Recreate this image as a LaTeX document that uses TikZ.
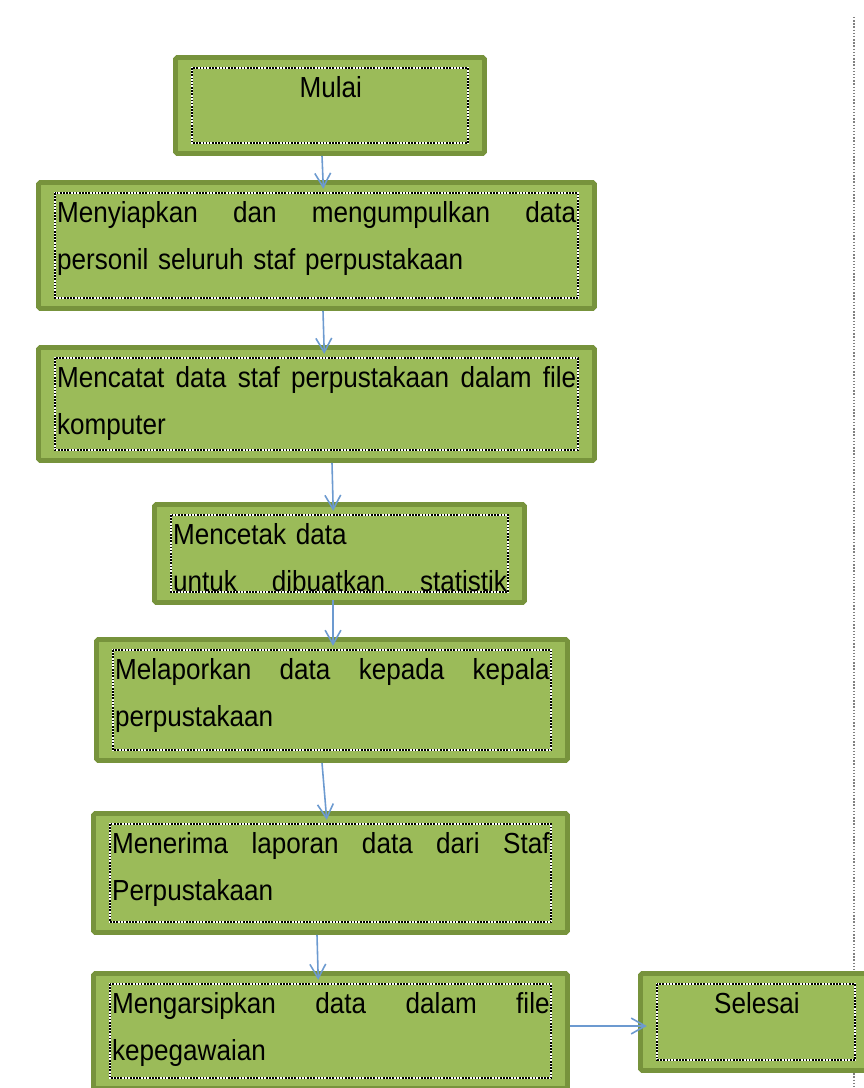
\documentclass[tikz,border=0pt]{standalone}
\usepackage{fontspec}
\setmainfont{Liberation Sans}[FakeStretch=0.9]
\usetikzlibrary{arrows.meta}
\definecolor{boxfill}{HTML}{9BBB59}
\definecolor{boxline}{HTML}{77933C}
\definecolor{arrline}{HTML}{6C9AD0}
\begin{document}
\begin{tikzpicture}[x=0.02cm,y=-0.02cm,>={Straight Barb[length=8pt,width=9pt]},
  box/.style={draw=boxline,fill=boxfill,line width=2.8pt,rounded corners=1pt,inner sep=0pt},
  frame/.style={draw=black,dash pattern=on 0.9pt off 0.9pt,line width=1.1pt,preaction={draw=white,solid,line width=1.1pt}},
  txt/.style={inner xsep=1pt,inner ysep=4.5pt,font=\fontsize{16.5}{27}\selectfont},
  arr/.style={->,draw=arrline,line width=0.9pt,shorten >=-5pt}]
\useasboundingbox (0,0) rectangle (863,1088);
\draw[gray,densely dotted,line width=0.8pt] (854,17) -- (854,1088);
\foreach \n/\x/\y/\w/\h/\a/\t in {
  mulai/330/105.5/314/101/center/Mulai,
  siap/316.5/245.5/561/131/left/{Menyiapkan\hfill dan\hfill mengumpulkan\hfill data\\personil seluruh staf perpustakaan},
  catat/316.5/404/561/118/left/{Mencatat\hfill data\hfill staf\hfill perpustakaan\hfill dalam\hfill file\\komputer},
  cetak/339.5/553.5/375/103/left/{Mencetak data\\untuk\hfill dibuatkan\hfill statistik},
  lapor/332/700/476/126/left/{Melaporkan\hfill data\hfill kepada\hfill kepala\\perpustakaan},
  terima/330.5/873/479/124/left/{Menerima\hfill laporan\hfill data\hfill dari\hfill Staf\\Perpustakaan},
  arsip/330.5/1031/479/120/left/{Mengarsipkan\hfill data\hfill dalam\hfill file\\kepegawaian},
  selesai/756/1022/236/102/center/Selesai} {
  \pgfmathsetmacro\tw{(\w-38)*0.5669-1}
  \node[box,minimum width=(\w-5)*0.02cm,minimum height=(\h-5)*0.02cm] (\n) at (\x,\y) {};
  \draw[frame] ([shift={(19,13)}]\n.north west) rectangle ([shift={(-19,-13)}]\n.south east);
  \node[txt,align=\a,text width=\tw pt,anchor=north west] (\n-t) at ([shift={(19,13)}]\n.north west) {\t};
}
\foreach \a/\b/\x/\u in {mulai/siap/322/323,siap/catat/323/324,catat/cetak/332/333,lapor/terima/322/326,terima/arsip/317/318}
  \draw[arr] (\a.south -| \x,0) -- (\b.north -| \u,0);
\draw[arr] (cetak-t.south -| 333,0) -- (lapor.north -| 333,0);
\draw[arr] (arsip.east |- 0,1026) -- (selesai.west |- 0,1026);
\end{tikzpicture}
\end{document}
